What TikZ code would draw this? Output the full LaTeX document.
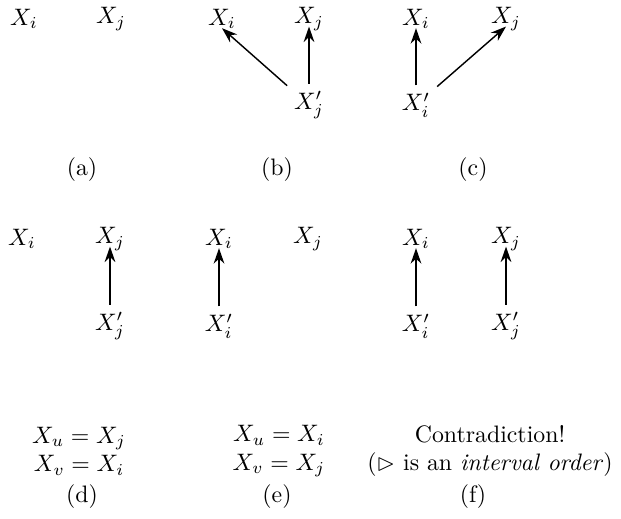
\documentclass[tikz,border=0pt]{standalone}
\usepackage{amssymb}
\usetikzlibrary{arrows.meta}
\begin{document}
\begin{tikzpicture}[x=0.42pt,y=-0.42pt,
  v/.style={inner sep=2pt},
  lab/.style={inner sep=0pt},
  arr/.style={-{Stealth[length=6.5pt,width=4.5pt]},semithick,shorten <=1pt}]
\useasboundingbox (0,0) rectangle (621,519);
% (a)
\node[v] (a1) at (24,19) {$X_i$};
\node[v] (a2) at (111,19) {$X_j$};
\node[lab] (la) at (82,170) {(a)};
% (b)
\node[v] (b1) at (222,19) {$X_i$};
\node[v] (b2) at (309,19) {$X_j$};
\node[v] (b3) at (309,105) {$X'_j$};
\draw[arr] (b3) -- ([yshift=-1.2pt]b1.base);
\draw[arr] (b3) -- ([yshift=-1.2pt]b2.base);
\node[lab] (lb) at (277,170) {(b)};
% (c)
\node[v] (c1) at (416,19) {$X_i$};
\node[v] (c2) at (506,19) {$X_j$};
\node[v] (c3) at (416,105) {$X'_i$};
\draw[arr] (c3) -- ([yshift=-1.2pt]c1.base);
\draw[arr] (c3) -- ([yshift=-1.2pt]c2.base);
\node[lab] (lc) at (473,170) {(c)};
% (d)
\node[v] (d1) at (22,239) {$X_i$};
\node[v] (d2) at (110,239) {$X_j$};
\node[v] (d3) at (110,326) {$X'_j$};
\draw[arr] (d3) -- ([yshift=-1.2pt]d2.base);
\node[lab,align=center] (dt) at (79,451) {$X_u = X_j$\\$X_v = X_i$};
\node[lab] (ld) at (82,497) {(d)};
% (e)
\node[v] (e1) at (219,239) {$X_i$};
\node[v] (e2) at (308,239) {$X_j$};
\node[v] (e3) at (219,326) {$X'_i$};
\draw[arr] (e3) -- ([yshift=-1.2pt]e1.base);
\node[lab,align=center] (et) at (279,451) {$X_u = X_i$\\$X_v = X_j$};
\node[lab] (le) at (277,497) {(e)};
% (f)
\node[v] (f1) at (416,239) {$X_i$};
\node[v] (f2) at (506,239) {$X_j$};
\node[v] (f3) at (416,326) {$X'_i$};
\node[v] (f4) at (506,326) {$X'_j$};
\draw[arr] (f3) -- ([yshift=-1.2pt]f1.base);
\draw[arr] (f4) -- ([yshift=-1.2pt]f2.base);
\node[lab,align=center] (ft) at (490,451) {Contradiction!\\($\rhd$ is an \emph{interval order})};
\node[lab] (lf) at (473,497) {(f)};
\end{tikzpicture}
\end{document}
